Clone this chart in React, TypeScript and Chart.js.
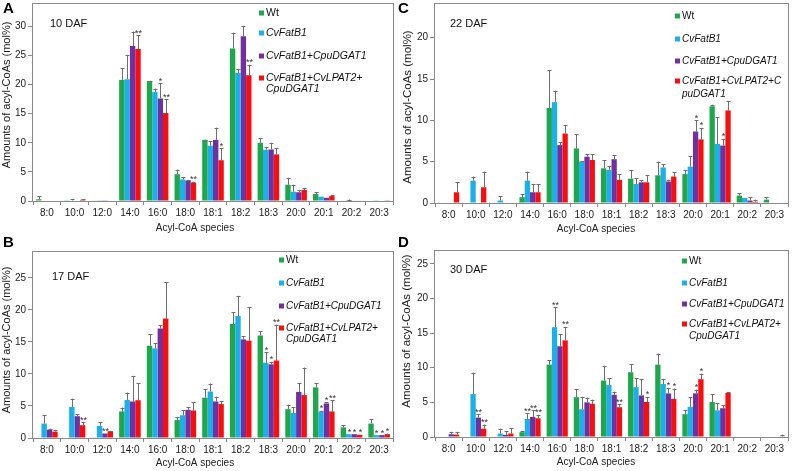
import React, { useEffect, useRef } from 'react';
import { Chart, registerables } from 'chart.js';

Chart.register(...registerables);

const FONT = '"Liberation Sans", Arial, Helvetica, sans-serif';

const categories = ['8:0', '10:0', '12:0', '14:0', '16:0', '18:0', '18:1', '18:2', '18:3', '20:0', '20:1', '20:2', '20:3'];
const seriesNames = ['Wt', 'CvFatB1', 'CvFatB1+CpuDGAT1', 'CvFatB1+CvLPAT2+CpuDGAT1'];
const seriesColors = ['#1fa74d', '#1cb0ea', '#7030a0', '#fb0d0d'];
const yTicks = [0, 5, 10, 15, 20, 25, 30];
const xTitle = 'Acyl-CoA species';
const yTitle = 'Amounts of acyl-CoAs (mol%)';

// ---- A: 10 DAF ----
const wt10 = [0.3, 0.05, 0.1, 20.8, 20.6, 4.6, 10.5, 26.2, 10.0, 2.8, 1.2, 0.1, 0];
const wt10Err = [0.5, 0, 0, 2.0, 0.05, 0.8, 0.05, 2.7, 0.8, 1.2, 0.35, 0, 0];
const cv10 = [0, 0.1, 0.05, 20.9, 18.7, 3.7, 9.5, 22.0, 8.8, 1.6, 0.75, 0.15, 0.05];
const cv10Err = [0, 0.2, 0, 4.2, 0.6, 0.4, 0.8, 0.6, 0.5, 1.2, 0, 0.1, 0];
const pu10 = [0, 0, 0.05, 26.6, 17.6, 3.5, 10.5, 28.3, 8.85, 1.5, 0.55, 0.1, 0];
const pu10Err = [0, 0, 0, 2.5, 2.6, 0.05, 2.1, 1.8, 1.15, 0.4, 0, 0, 0];
const rd10 = [0, 0.2, 0, 26.1, 15.1, 3.1, 7.0, 21.6, 8.0, 1.9, 0.85, 0.1, 0.05];
const rd10Err = [0, 0.1, 0, 2.4, 2.4, 0.2, 2.1, 1.8, 1.1, 0.3, 0.1, 0, 0];
const wt10Sig = ['', '', '', '', '', '', '', '', '', '', '', '', ''];
const cv10Sig = ['', '', '', '', '', '', '', '', '', '', '', '', ''];
const pu10Sig = ['', '', '', '', '*', '', '', '', '', '', '', '', ''];
const rd10Sig = ['', '', '', '**', '**', '**', '*', '**', '', '', '', '', ''];

// ---- B: 17 DAF ----
const wt17 = [0, 0, 0.1, 4.15, 14.4, 2.8, 6.3, 17.8, 16.0, 4.5, 7.9, 1.65, 2.25];
const wt17Err = [0, 0, 0, 0.6, 1.85, 0.5, 1.35, 1.8, 0.65, 0.7, 0.7, 0.35, 0.7];
const cv17 = [2.25, 4.85, 1.9, 5.95, 14.0, 3.55, 7.25, 19.05, 11.75, 3.9, 4.1, 0.6, 0.45];
const cv17Err = [1.35, 1.3, 0.55, 1.15, 0.85, 0.75, 1.25, 3.15, 1.65, 0.95, 0.15, 0, 0];
const pu17 = [1.3, 3.4, 0.7, 5.7, 17.1, 4.4, 5.7, 15.4, 11.5, 7.2, 5.4, 0.6, 0.45];
const pu17Err = [0.15, 0.35, 0, 4.0, 0.55, 0.45, 0.75, 0.5, 0.4, 1.35, 0.15, 0, 0];
const rd17 = [1.0, 2.0, 1.05, 5.9, 18.65, 4.3, 5.3, 15.2, 12.1, 6.7, 4.15, 0.5, 0.6];
const rd17Err = [0.2, 0.45, 0.1, 2.7, 5.65, 1.3, 0.4, 5.2, 5.6, 4.3, 1.75, 0, 0.1];
const wt17Sig = ['', '', '', '', '', '', '', '', '', '', '', '', ''];
const cv17Sig = ['', '', '', '', '', '', '', '', '*', '', '*', '*', '*'];
const pu17Sig = ['', '', '**', '', '', '', '', '', '*', '', '*', '*', '*'];
const rd17Sig = ['', '**', '', '', '', '', '', '', '**', '', '**', '*', '*'];

// ---- C: 22 DAF ----
const wt22 = [0, 0, 0, 0.7, 11.5, 6.6, 4.2, 2.95, 3.35, 3.5, 11.7, 0.9, 0.4];
const wt22Err = [0, 0, 0, 0.35, 4.6, 1.7, 1.0, 1.05, 1.65, 0.5, 0.2, 0.3, 0.3];
const cv22 = [0, 2.7, 0.3, 2.7, 12.2, 5.0, 4.0, 2.3, 4.3, 4.4, 7.15, 0.6, 0];
const cv22Err = [0, 0.5, 0.5, 1.1, 1.4, 0.05, 0.5, 0.7, 0.4, 1.3, 3.25, 0, 0];
const pu22 = [0, 0, 0, 1.3, 7.0, 5.6, 5.3, 2.5, 2.6, 8.65, 6.95, 0.3, 0];
const pu22Err = [0, 0, 0, 1.0, 0.35, 0.3, 0.5, 0.25, 0.2, 1.35, 0.8, 0.4, 0];
const rd22 = [1.3, 1.9, 0, 1.3, 8.4, 5.2, 2.8, 2.5, 3.2, 7.7, 11.2, 0.15, 0];
const rd22Err = [1.2, 1.9, 0, 1.0, 1.0, 0.7, 0.7, 0.9, 0.55, 1.4, 1.1, 0.25, 0];
const wt22Sig = ['', '', '', '', '', '', '', '', '', '', '', '', ''];
const cv22Sig = ['', '', '', '', '', '', '', '', '', '', '', '', ''];
const pu22Sig = ['', '', '', '', '', '', '', '', '', '*', '*', '', ''];
const rd22Sig = ['', '', '', '', '', '', '', '', '', '*', '', '', ''];

// ---- D: 30 DAF ----
const wt30 = [0, 0, 0, 0.7, 10.45, 5.75, 8.15, 9.35, 10.45, 3.3, 5.05, 0, 0];
const wt30Err = [0, 0, 0, 0.15, 0.65, 1.15, 2.15, 1.15, 1.6, 0.55, 1.15, 0, 0];
const cv30 = [0, 6.2, 0.5, 2.6, 15.85, 4.0, 7.5, 7.2, 7.65, 4.35, 3.85, 0, 0];
const cv30Err = [0, 3.1, 0.7, 0.85, 2.85, 1.8, 1.0, 1.3, 0.75, 1.4, 1.0, 0, 0];
const pu30 = [0.4, 2.8, 0.3, 2.9, 13.1, 5.0, 6.1, 6.0, 6.3, 6.3, 4.15, 0, 0];
const pu30Err = [0.35, 0.45, 0.5, 0.95, 1.8, 0.7, 0.45, 2.4, 0.8, 0.55, 0.45, 0, 0];
const rd30 = [0.35, 1.2, 0.5, 2.7, 13.95, 4.8, 4.3, 5.05, 5.5, 8.35, 6.35, 0, 0.1];
const rd30Err = [0.4, 0.6, 0.8, 0.5, 1.95, 0.6, 0.45, 0.75, 1.5, 0.8, 0.15, 0, 0.25];
const wt30Sig = ['', '', '', '', '', '', '', '', '', '', '', '', ''];
const cv30Sig = ['', '', '', '**', '**', '', '', '', '', '', '', '', ''];
const pu30Sig = ['', '**', '', '**', '', '', '', '', '*', '*', '', '', ''];
const rd30Sig = ['', '**', '', '**', '**', '', '**', '*', '*', '*', '', '', ''];

type PanelCfg = {
  letter: string;
  daf: string;
  x: number; y: number; w: number; h: number;
  yMax: number;
  padTop: number; padRight: number;
  yWidth: number; xHeight: number;
  yTitleX: number; yTitleY: number; yTitleSize: number;
  xTitleX: number; xTitleY: number;
  letterBase: number;
  dafX: number; dafY: number;
  legX: number; legRows: number[]; legLine2: number; legSize: number;
  lastLabel: string[];
  values: number[][]; errors: number[][]; sigs: string[][];
};

const panels: PanelCfg[] = [
  {
    letter: 'A', daf: '10 DAF', x: 0, y: 0, w: 395, h: 235, yMax: 34,
    padTop: 3, padRight: 2, yWidth: 33, xHeight: 34,
    yTitleX: 7, yTitleY: 95, yTitleSize: 11, xTitleX: 195, xTitleY: 228,
    letterBase: 13, dafX: 50, dafY: 24,
    legX: 259, legRows: [13, 33, 56, 78], legLine2: 11, legSize: 10.5,
    lastLabel: ['CvFatB1+CvLPAT2+', 'CpuDGAT1'],
    values: [wt10, cv10, pu10, rd10], errors: [wt10Err, cv10Err, pu10Err, rd10Err], sigs: [wt10Sig, cv10Sig, pu10Sig, rd10Sig],
  },
  {
    letter: 'C', daf: '22 DAF', x: 395, y: 0, w: 398, h: 235, yMax: 24.2,
    padTop: 3, padRight: 5, yWidth: 40, xHeight: 32,
    yTitleX: 13, yTitleY: 107, yTitleSize: 11.5, xTitleX: 201, xTitleY: 229,
    letterBase: 13, dafX: 55, dafY: 24,
    legX: 280, legRows: [16, 39, 61, 81], legLine2: 13, legSize: 10,
    lastLabel: ['CvFatB1+CvLPAT2+C', 'puDGAT1'],
    values: [wt22, cv22, pu22, rd22], errors: [wt22Err, cv22Err, pu22Err, rd22Err], sigs: [wt22Sig, cv22Sig, pu22Sig, rd22Sig],
  },
  {
    letter: 'B', daf: '17 DAF', x: 0, y: 235, w: 395, h: 236, yMax: 29.2,
    padTop: 16, padRight: 2, yWidth: 33, xHeight: 33,
    yTitleX: 7, yTitleY: 105, yTitleSize: 11, xTitleX: 195, xTitleY: 228,
    letterBase: 12, dafX: 52, dafY: 42,
    legX: 279, legRows: [25, 48, 71, 93], legLine2: 11, legSize: 10,
    lastLabel: ['CvFatB1+CvLPAT2+', 'CpuDGAT1'],
    values: [wt17, cv17, pu17, rd17], errors: [wt17Err, cv17Err, pu17Err, rd17Err], sigs: [wt17Sig, cv17Sig, pu17Sig, rd17Sig],
  },
  {
    letter: 'D', daf: '30 DAF', x: 395, y: 235, w: 398, h: 236, yMax: 27,
    padTop: 15, padRight: 5, yWidth: 40, xHeight: 34,
    yTitleX: 12, yTitleY: 96, yTitleSize: 11.5, xTitleX: 201, xTitleY: 227,
    letterBase: 12, dafX: 55, dafY: 35,
    legX: 287, legRows: [26, 48, 69, 89], legLine2: 12, legSize: 10,
    lastLabel: ['CvFatB1+CvLPAT2+', 'CpuDGAT1'],
    values: [wt30, cv30, pu30, rd30], errors: [wt30Err, cv30Err, pu30Err, rd30Err], sigs: [wt30Sig, cv30Sig, pu30Sig, rd30Sig],
  },
];

function Panel({ cfg }: { cfg: PanelCfg }) {
  const ref = useRef<HTMLCanvasElement>(null);
  useEffect(() => {
    const canvas = ref.current;
    if (!canvas) return;
    const overlay = {
      id: 'overlay',
      afterDatasetsDraw(chart: any) {
        const ctx = chart.ctx;
        const ys = chart.scales.y;
        ctx.save();
        cfg.values.forEach((vals, i) => {
          const meta = chart.getDatasetMeta(i);
          meta.data.forEach((el: any, j: number) => {
            const v = vals[j];
            const e = cfg.errors[i][j];
            const sg = cfg.sigs[i][j];
            const x = Math.round(el.x);
            const yTop = ys.getPixelForValue(v + e);
            if (e > 0) {
              ctx.strokeStyle = '#6e6e6e';
              ctx.lineWidth = 1;
              ctx.beginPath();
              ctx.moveTo(x + 0.5, el.y);
              ctx.lineTo(x + 0.5, yTop);
              ctx.moveTo(x - 1.5, Math.round(yTop) + 0.5);
              ctx.lineTo(x + 2.5, Math.round(yTop) + 0.5);
              ctx.stroke();
            }
            if (sg) {
              ctx.fillStyle = '#333';
              ctx.font = `9px ${FONT}`;
              ctx.textAlign = 'center';
              ctx.textBaseline = 'alphabetic';
              ctx.fillText(sg, x + 0.5, yTop + 0.5);
            }
          });
        });
        ctx.restore();
      },
      afterDraw(chart: any) {
        const ctx = chart.ctx;
        const a = chart.chartArea;
        ctx.save();
        // frame
        ctx.strokeStyle = '#8a8a8a';
        ctx.lineWidth = 1;
        ctx.strokeRect(Math.round(a.left) - 0.5, Math.round(a.top) + 0.5, Math.round(a.right - a.left) + 1, Math.round(a.bottom - a.top));
        // axis titles
        ctx.fillStyle = '#222';
        ctx.textAlign = 'center';
        ctx.textBaseline = 'middle';
        ctx.font = `10px ${FONT}`;
        ctx.fillText(xTitle, cfg.xTitleX, cfg.xTitleY);
        ctx.save();
        ctx.translate(cfg.yTitleX, cfg.yTitleY);
        ctx.rotate(-Math.PI / 2);
        ctx.font = `${cfg.yTitleSize}px ${FONT}`;
        ctx.fillText(yTitle, 0, 0);
        ctx.restore();
        // panel letter
        ctx.fillStyle = '#000';
        ctx.font = `bold 15px ${FONT}`;
        ctx.textAlign = 'left';
        ctx.textBaseline = 'alphabetic';
        ctx.fillText(cfg.letter, 3, cfg.letterBase);
        // DAF label
        ctx.fillStyle = '#111';
        ctx.font = `11px ${FONT}`;
        ctx.textBaseline = 'middle';
        ctx.fillText(cfg.daf, cfg.dafX, cfg.dafY);
        // legend
        seriesNames.forEach((name, i) => {
          const ry = cfg.legRows[i];
          ctx.fillStyle = seriesColors[i];
          ctx.fillRect(cfg.legX, ry - 2.5, 5, 5);
          ctx.fillStyle = '#111';
          ctx.font = `${i === 0 ? '' : 'italic '}${cfg.legSize}px ${FONT}`;
          ctx.textBaseline = 'middle';
          const lines = i === 3 ? cfg.lastLabel : [name];
          lines.forEach((ln, k) => ctx.fillText(ln, cfg.legX + 7, ry + k * cfg.legLine2));
        });
        ctx.restore();
      },
    };
    const chart = new Chart(canvas, {
      type: 'bar',
      data: {
        labels: categories,
        datasets: seriesNames.map((name, i) => ({
          label: name,
          data: cfg.values[i],
          backgroundColor: seriesColors[i],
          borderWidth: 0,
          categoryPercentage: 0.78,
          barPercentage: 1.0,
        })),
      },
      options: {
        responsive: false,
        animation: false,
        layout: { padding: { top: cfg.padTop, right: cfg.padRight, left: 0, bottom: 0 } },
        plugins: { legend: { display: false }, tooltip: { enabled: false } },
        scales: {
          x: {
            offset: true,
            grid: { display: true, drawOnChartArea: false, drawTicks: true, tickLength: 4, color: '#8a8a8a', offset: true },
            border: { display: false },
            ticks: { font: { family: FONT, size: 10 }, color: '#222', padding: 2, maxRotation: 0, autoSkip: false },
            title: { display: false },
            afterFit: (s: any) => { s.height = cfg.xHeight; s.paddingLeft = 0; s.paddingRight = 0; },
          },
          y: {
            min: 0,
            max: cfg.yMax,
            grid: { display: true, drawOnChartArea: false, drawTicks: true, tickLength: 5, color: '#8a8a8a' },
            border: { display: false },
            afterBuildTicks: (s: any) => { s.ticks = yTicks.filter((t) => t <= cfg.yMax).map((t) => ({ value: t })); },
            ticks: { font: { family: FONT, size: 10 }, color: '#222', padding: 2 },
            title: { display: false },
            afterFit: (s: any) => { s.width = cfg.yWidth; s.paddingTop = 0; s.paddingBottom = 0; },
          },
        },
      },
      plugins: [overlay],
    } as any);
    return () => chart.destroy();
  }, [cfg]);
  return (
    <canvas
      ref={ref}
      width={cfg.w}
      height={cfg.h}
      style={{ position: 'absolute', left: cfg.x, top: cfg.y, width: cfg.w, height: cfg.h }}
    />
  );
}

export default function App() {
  return (
    <div style={{ position: 'fixed', left: 0, top: 0, width: 793, height: 471, background: '#fff', overflow: 'hidden' }}>
      {panels.map((p) => (
        <Panel key={p.letter} cfg={p} />
      ))}
    </div>
  );
}
